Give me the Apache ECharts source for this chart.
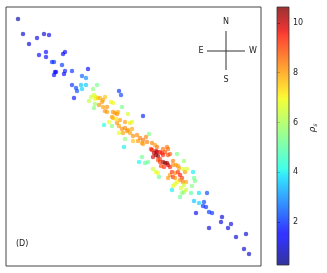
<!DOCTYPE html>
<html>
<head>
<meta charset="utf-8">
<script src="https://cdn.jsdelivr.net/npm/echarts@6/dist/echarts.min.js"></script>
<style>
html,body{margin:0;padding:0;background:#fff;}
#chart{width:327px;height:273px;}
</style>
</head>
<body>
<div id="chart"></div>
<script>
// Point positions (in plot units) and colour values rho_s
const xPos = [18,23,29,37,44,49,39,46,46,63,65,52,54,62,55,54,56,65,64,72,88,82,86,72,76,77,74,81,82,86,97,93,119,121,
  91,94,96,89,95,98,100,103,105,102,99,95,94,103,107,105,107,111,113,122,113,115,117,118,112,113,116,128,143,109,117,120,125,130,132,104,112,119,122,125,128,132,119,123,130,125,124,127,
  133,137,140,138,143,146,149,142,147,133,143,152,155,157,151,152,154,157,153,156,156,158,160,160,162,165,163,167,168,177,142,139,145,148,163,165,167,168,170,164,161,160,158,170,168,163,
  173,173,176,178,179,184,183,185,187,153,156,158,159,168,170,172,173,175,178,180,182,175,180,183,186,177,175,173,184,181,193,194,195,192,184,186,182,172,180,
  191,199,207,194,199,204,203,206,209,212,196,222,221,231,228,209,236,246,244,249];
const yPos = [19,34,44,38,34,35,55,52,57,54,52,62,62,65,72,75,72,71,74,71,69,76,78,85,88,91,98,85,89,85,85,89,91,95,
  97,95,97,101,99,98,98,100,97,102,105,104,108,107,107,111,112,102,103,107,112,113,114,112,117,118,119,114,116,122,123,120,122,123,122,125,126,126,129,128,130,129,133,133,133,139,147,131,
  136,135,138,141,140,137,134,143,142,141,144,143,145,147,149,150,153,152,157,155,151,156,152,159,153,152,149,147,149,154,157,162,163,162,162,163,163,165,167,167,166,162,160,154,155,155,
  161,165,165,166,168,161,169,172,169,169,172,173,177,178,175,172,177,173,172,175,178,178,180,182,182,182,184,186,185,188,172,178,181,186,192,190,193,190,197,
  193,193,193,201,203,202,206,207,212,213,213,217,222,224,228,228,237,234,249,254];
const rhoValues = [0.6,1.0,1.0,1.2,1.0,1.2,1.5,1.5,1.4,1.5,1.5,2.0,2.0,2.1,1.6,1.5,1.6,1.8,1.6,2.0,1.5,2.5,3.0,2.0,2.2,2.3,1.7,3.6,3.7,3.6,5.3,5.6,2.0,2.2,
  6.5,6.6,6.8,6.3,6.8,7.5,7.8,8.0,7.6,8.0,8.1,5.8,5.5,8.0,8.1,8.2,8.0,7.0,6.8,5.3,8.1,8.0,8.3,7.8,8.0,7.8,7.2,6.6,1.9,6.8,8.1,8.0,8.0,7.2,6.8,4.2,5.5,8.0,8.2,8.3,8.0,7.9,6.9,8.0,8.0,5.6,4.0,8.1,
  8.2,8.2,8.4,8.1,8.5,8.3,5.4,8.0,8.4,7.6,8.0,8.3,8.0,8.5,9.3,9.5,10.2,10.3,9.8,10.4,10.0,10.5,9.6,9.2,9.5,9.0,8.5,8.4,8.6,5.4,5.2,4.1,5.0,5.2,10.3,10.5,10.4,10.0,9.5,9.3,9.0,9.2,9.0,8.7,9.0,9.4,
  8.4,8.1,8.2,8.0,7.9,5.8,6.8,8.0,6.6,6.5,6.6,6.9,5.2,8.0,8.1,9.3,9.3,8.2,9.2,9.5,9.2,8.1,8.2,8.3,7.9,7.0,6.7,6.8,6.5,6.6,4.0,5.2,5.4,5.5,6.0,6.4,5.5,4.0,5.2,
  5.0,3.8,2.2,3.5,3.7,2.2,2.0,2.0,2.1,2.0,1.3,1.0,1.1,1.2,1.1,1.1,1.0,1.0,0.9,0.9];
const colorbarTicks = [2, 4, 6, 8, 10];
const colorMin = 0.28, colorMax = 10.64;
const compassLabels = ['N', 'S', 'E', 'W'];
const panelLabel = '(D)';

// jet colormap (matplotlib), alpha 0.8
function jet(t) {
  const clamp = v => Math.max(0, Math.min(1, v));
  let r, g, b;
  if (t < 0.35) r = 0; else if (t < 0.66) r = (t - 0.35) / 0.31; else if (t < 0.89) r = 1; else r = 1 - (t - 0.89) / 0.11 * 0.5;
  if (t < 0.125) g = 0; else if (t < 0.375) g = (t - 0.125) / 0.25; else if (t < 0.64) g = 1; else if (t < 0.91) g = 1 - (t - 0.64) / 0.27; else g = 0;
  if (t < 0.11) b = 0.5 + t / 0.11 * 0.5; else if (t < 0.34) b = 1; else if (t < 0.65) b = 1 - (t - 0.34) / 0.31; else b = 0;
  return 'rgba(' + Math.round(clamp(r) * 255) + ',' + Math.round(clamp(g) * 255) + ',' + Math.round(clamp(b) * 255) + ',0.8)';
}
const jetColors = [];
const jetStops = [];
for (let i = 0; i <= 64; i++) { jetColors.push(jet(i / 64)); jetStops.push({offset: i / 64, color: jet(i / 64)}); }

const points = xPos.map((x, i) => [x, yPos[i], rhoValues[i]]);

const chart = echarts.init(document.getElementById('chart'), null, {renderer: 'canvas'});
const font = 'DejaVu Sans';
const cx = 226, cy = 51;
chart.setOption({
  animation: false,
  backgroundColor: '#fff',
  grid: [
    {left: 6, top: 7, width: 255, height: 259, show: true, borderColor: '#444', borderWidth: 1, backgroundColor: 'transparent'},
    {left: 277, top: 7, width: 12, height: 258, show: false}
  ],
  xAxis: [
    {type: 'value', gridIndex: 0, min: 6, max: 261, show: false},
    {type: 'value', gridIndex: 1, min: 0, max: 1, show: false}
  ],
  yAxis: [
    {type: 'value', gridIndex: 0, min: 7, max: 266, inverse: true, show: false},
    {type: 'value', gridIndex: 1, min: colorMin, max: colorMax, position: 'right',
      axisLine: {show: false}, splitLine: {show: false},
      axisTick: {show: true, length: 3, customValues: colorbarTicks, lineStyle: {color: '#222', width: 0.8}},
      axisLabel: {show: true, customValues: colorbarTicks, fontSize: 8, color: '#222', margin: 4, fontFamily: font}}
  ],
  visualMap: {
    type: 'continuous', show: false, min: colorMin, max: colorMax, dimension: 2, seriesIndex: 0,
    inRange: {color: jetColors}
  },
  series: [
    {type: 'scatter', xAxisIndex: 0, yAxisIndex: 0, data: points, symbolSize: 4.5, itemStyle: {borderWidth: 0}},
    {type: 'scatter', xAxisIndex: 1, yAxisIndex: 1, data: []}
  ],
  graphic: [
    {type: 'rect', shape: {x: 277, y: 7, width: 12, height: 258},
      style: {fill: new echarts.graphic.LinearGradient(0, 1, 0, 0, jetStops), stroke: '#333', lineWidth: 0.8}, z: 100},
    {type: 'line', shape: {x1: cx, y1: 31, x2: cx, y2: 70}, style: {stroke: '#333', lineWidth: 1}, z: 100},
    {type: 'line', shape: {x1: 207, y1: cy, x2: 245, y2: cy}, style: {stroke: '#333', lineWidth: 1}, z: 100},
    {type: 'text', x: cx, y: 22, style: {text: compassLabels[0], fill: '#222', font: '8px ' + font, textAlign: 'center', textVerticalAlign: 'middle'}, z: 100},
    {type: 'text', x: cx, y: 80, style: {text: compassLabels[1], fill: '#222', font: '8px ' + font, textAlign: 'center', textVerticalAlign: 'middle'}, z: 100},
    {type: 'text', x: 201, y: cy, style: {text: compassLabels[2], fill: '#222', font: '8px ' + font, textAlign: 'center', textVerticalAlign: 'middle'}, z: 100},
    {type: 'text', x: 253, y: cy, style: {text: compassLabels[3], fill: '#222', font: '8px ' + font, textAlign: 'center', textVerticalAlign: 'middle'}, z: 100},
    {type: 'text', x: 16, y: 244, style: {text: panelLabel, fill: '#222', font: '8px ' + font, textAlign: 'left', textVerticalAlign: 'middle'}, z: 100},
    {type: 'text', x: 313, y: 128, rotation: Math.PI / 2,
      style: {text: '{a|ρ}{b|s}', textAlign: 'center', textVerticalAlign: 'middle',
        rich: {a: {fontSize: 9, fontStyle: 'italic', fontFamily: font, fill: '#222', color: '#222'},
               b: {fontSize: 6, fontStyle: 'italic', fontFamily: font, fill: '#222', color: '#222', padding: [4, 0, 0, 0]}}}, z: 100}
  ]
});
</script>
</body>
</html>
